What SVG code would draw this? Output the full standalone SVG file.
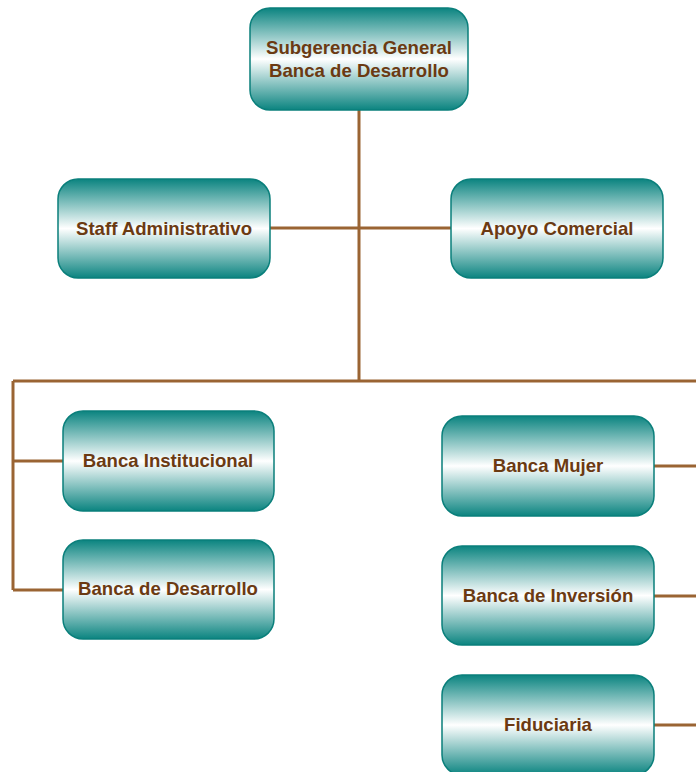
<svg xmlns="http://www.w3.org/2000/svg" width="696" height="772" viewBox="0 0 696 772">
  <defs>
    <linearGradient id="boxFill" x1="0" y1="0" x2="0" y2="1">
      <stop offset="0" stop-color="#0b8480"/>
      <stop offset="0.5" stop-color="#ffffff"/>
      <stop offset="1" stop-color="#0b8480"/>
    </linearGradient>
  </defs>
  <style>
    .box { fill: url(#boxFill); stroke: #0a7f7b; stroke-width: 1.5; }
    .label { font-family: "Liberation Sans", Arial, sans-serif; font-weight: bold; font-size: 18.6px; fill: #6b3a12; text-anchor: middle; }
    .link { stroke: #9a6433; stroke-width: 3; fill: none; }
  </style>
  <rect width="696" height="772" fill="#ffffff"/>

  <g id="connectors">
    <path class="link" d="M359 110 V381"/>
    <path class="link" d="M270 228 H451"/>
    <path class="link" d="M13 381 H696"/>
    <path class="link" d="M13 381 V590"/>
    <path class="link" d="M13 461 H63"/>
    <path class="link" d="M13 590 H63"/>
    <path class="link" d="M654 466 H696"/>
    <path class="link" d="M654 596 H696"/>
    <path class="link" d="M654 725 H696"/>
  </g>

  <g id="subgerencia">
    <rect class="box" x="250" y="8" width="218" height="102" rx="20"/>
    <text class="label" x="359" y="54">Subgerencia General</text>
    <text class="label" x="359" y="77">Banca de Desarrollo</text>
  </g>
  <g id="staff">
    <rect class="box" x="58" y="179" width="212" height="99" rx="20"/>
    <text class="label" x="164" y="235">Staff Administrativo</text>
  </g>
  <g id="apoyo">
    <rect class="box" x="451" y="179" width="212" height="99" rx="20"/>
    <text class="label" x="557" y="235">Apoyo Comercial</text>
  </g>
  <g id="institucional">
    <rect class="box" x="63" y="411" width="211" height="100" rx="20"/>
    <text class="label" x="168" y="467">Banca Institucional</text>
  </g>
  <g id="desarrollo">
    <rect class="box" x="63" y="540" width="211" height="99" rx="20"/>
    <text class="label" x="168" y="595">Banca de Desarrollo</text>
  </g>
  <g id="mujer">
    <rect class="box" x="442" y="416" width="212" height="100" rx="20"/>
    <text class="label" x="548" y="472">Banca Mujer</text>
  </g>
  <g id="inversion">
    <rect class="box" x="442" y="546" width="212" height="99" rx="20"/>
    <text class="label" x="548" y="602">Banca de Inversión</text>
  </g>
  <g id="fiduciaria">
    <rect class="box" x="442" y="675" width="212" height="100" rx="20"/>
    <text class="label" x="548" y="731">Fiduciaria</text>
  </g>
</svg>
